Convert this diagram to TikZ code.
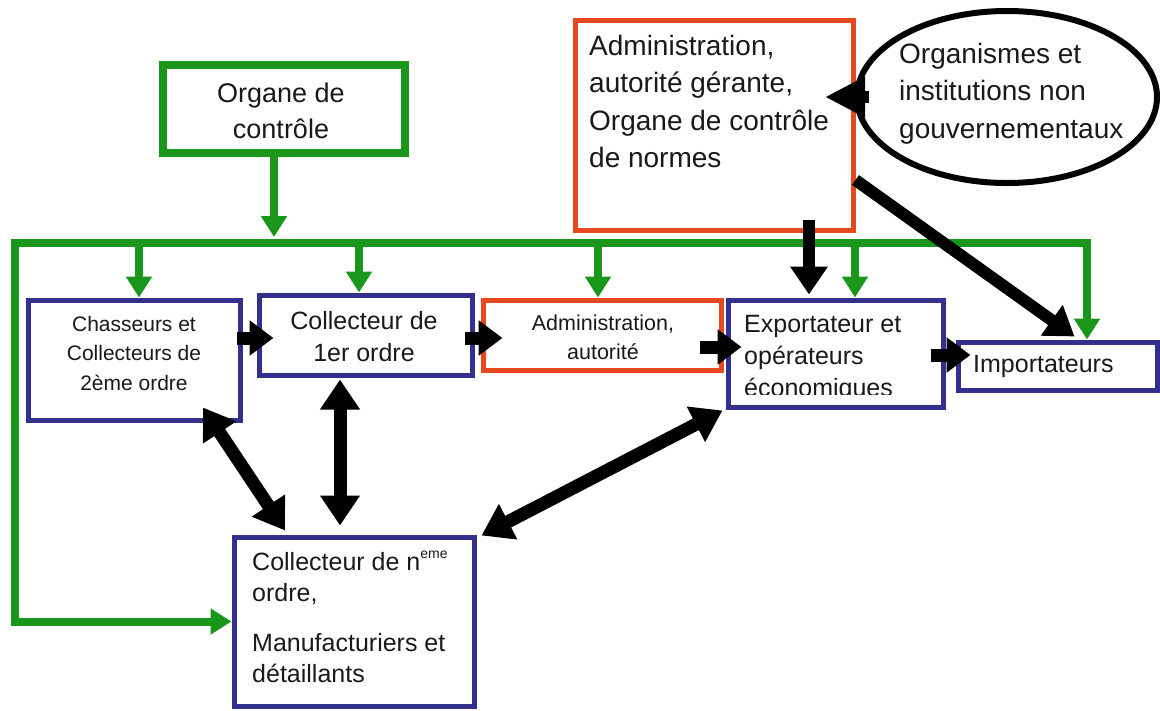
\documentclass[tikz,border=0pt]{standalone}
\usepackage{fontspec}
\setmainfont{Liberation Sans}
\usetikzlibrary{arrows.meta,shapes.geometric,calc}
\definecolor{grn}{RGB}{26,150,26}
\definecolor{navy}{RGB}{50,48,140}
\definecolor{redo}{RGB}{232,72,30}
\definecolor{txt}{RGB}{25,25,25}
\begin{document}
\begin{tikzpicture}[x=1pt,y=-1pt,
  bluebox/.style={draw=navy, line width=5pt, inner sep=0pt},
  redbox/.style={draw=redo, line width=5pt, inner sep=0pt},
  greenbox/.style={draw=grn, line width=7.5pt, inner sep=0pt},
  ovalbox/.style={draw=black, line width=6pt, ellipse, inner sep=0pt},
  lbl/.style={inner sep=0pt, text=txt},
  gline/.style={draw=grn, line width=8pt, line join=miter},
  garrow/.style={gline, -{Triangle[length=21pt,width=25pt]}},
  gboth/.style={gline, {Triangle[length=21pt,width=25pt]}-{Triangle[length=21pt,width=25pt]}},
  barrow/.style={draw=black, line width=12pt, -{Triangle[length=28pt,width=36pt]}},
  bshort/.style={draw=black, line width=13pt, -{Triangle[length=24pt,width=34pt]}},
  bbig/.style={draw=black, line width=12pt, -{Triangle[length=40pt,width=38pt]}},
  bdouble/.style={draw=black, line width=13pt, {Triangle[length=30pt,width=38pt]}-{Triangle[length=30pt,width=38pt]}}
]
\useasboundingbox (0,0) rectangle (1160,710);
\fill[white] (0,0) rectangle (1160,710);

% boxes
\node[greenbox, minimum width=242pt, minimum height=88pt] (org) at (284,109) {};
\node[redbox, minimum width=278pt, minimum height=210pt] (adm1) at (714,125) {};
\node[ovalbox, minimum width=300pt, minimum height=172pt] (ngo) at (1007,97) {};
\node[bluebox, minimum width=212pt, minimum height=120pt] (chas) at (134,360) {};
\node[bluebox, minimum width=213pt, minimum height=80pt] (col1) at (365.5,335) {};
\node[redbox, minimum width=238pt, minimum height=70pt] (adm2) at (602,335) {};
\node[bluebox, minimum width=215pt, minimum height=107pt] (exp) at (835.5,353.5) {};
\node[bluebox, minimum width=199pt, minimum height=48pt] (imp) at (1057.5,366) {};
\node[bluebox, minimum width=240pt, minimum height=169pt] (bot) at (354,621.5) {};

% texts
\node[lbl, anchor=base] (torg) at (281,102) {\fontsize{27}{36}\selectfont\begin{tabular}[t]{@{}c@{}}Organe de\\contrôle\end{tabular}};
\node[lbl, anchor=base west] (tadm1) at (589,55) {\fontsize{28}{37.5}\selectfont\begin{tabular}[t]{@{}l@{}}Administration,\\autorité gérante,\\Organe de contrôle\\de normes\end{tabular}};
\node[lbl, anchor=base west] (tngo) at (899,63) {\fontsize{28}{37.5}\selectfont\begin{tabular}[t]{@{}l@{}}Organismes et\\institutions non\\gouvernementaux\end{tabular}};
\node[lbl, anchor=base] (tchas) at (134,331) {\fontsize{21}{29.5}\selectfont\begin{tabular}[t]{@{}c@{}}Chasseurs et\\Collecteurs de\\2ème ordre\end{tabular}};
\node[lbl, anchor=base] (tcol1) at (364,329) {\fontsize{25}{32}\selectfont\begin{tabular}[t]{@{}c@{}}Collecteur de\\1er ordre\end{tabular}};
\node[lbl, anchor=base] (tadm2) at (603,330) {\fontsize{21.5}{29}\selectfont\begin{tabular}[t]{@{}c@{}}Administration,\\autorité\end{tabular}};
\begin{scope}
\clip (728,300) rectangle (943,394);
\node[lbl, anchor=base west] (texp) at (744,332) {\fontsize{25}{32}\selectfont\begin{tabular}[t]{@{}l@{}}Exportateur et\\opérateurs\\économiques\end{tabular}};
\end{scope}
\node[lbl, anchor=base west] (timp) at (973,372) {\fontsize{25}{30}\selectfont Importateurs};
\node[lbl, anchor=base west] (tbot) at (252,570) {\fontsize{25}{31}\selectfont\begin{tabular}[t]{@{}l@{}}Collecteur de n\raisebox{12pt}{\fontsize{14}{14}\selectfont eme}\\ordre,\\[19pt]Manufacturiers et\\détaillants\end{tabular}};

% green connectors
\coordinate (stem) at (274,237);
\coordinate (busL) at (15,243);
\coordinate (busR) at (1087,243);
\coordinate (d1) at (139,243);
\coordinate (d2) at (359,243);
\coordinate (d3) at (598,243);
\coordinate (d4) at (855,243);
\draw[gboth] (bot.west) -- (bot.west -| busL) -- (busL) -- (busR) -- (busR |- imp.north);
\draw[garrow] (org.south -| stem) -- (stem);
\draw[garrow] (d1) -- (d1 |- chas.north);
\draw[garrow] (d2) -- (d2 |- col1.north);
\draw[garrow] (d3) -- (d3 |- adm2.north);
\draw[garrow] (d4) -- (d4 |- exp.north);

% black connectors
\draw[bbig] ($(ngo.west)+(15,0)$) -- ($(ngo.west)+(-29,0)$);
\draw[barrow] ($(adm1.south)+(95,-13)$) -- ($(exp.north)+(-26.5,-3)$);
\draw[barrow] ($(adm1.east)+(0,55)$) -- ($(imp.north)+(17,-3)$);
\draw[bshort] ($(chas.east)+(-6,-22)$) -- ($(col1.west)+(17,3)$);
\draw[bshort] ($(col1.east)+(-10,3)$) -- ($(adm2.west)+(22,3)$);
\draw[bshort] ($(adm2.east)+(-24,12)$) -- ($(exp.west)+(16,-6.5)$);
\draw[bshort] ($(exp.east)+(-15,1.5)$) -- ($(imp.west)+(15,-11)$);
\draw[bdouble] ($(chas.south)+(69,-15)$) -- ($(bot.north)+(-69,-4)$);
\draw[bdouble] ($(col1.south)+(-25.5,2)$) -- ($(bot.north)+(-14,-9)$);
\draw[bdouble] ($(bot.north east)+(5,1)$) -- ($(exp.south west)+(-3,1)$);
\end{tikzpicture}
\end{document}
